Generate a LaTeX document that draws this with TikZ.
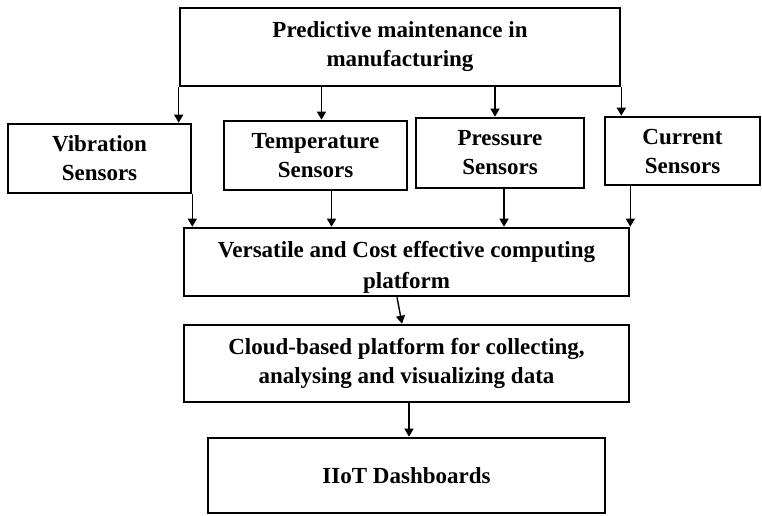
\documentclass[tikz,border=0pt]{standalone}
\usepackage{fontspec}
\setmainfont{Liberation Serif}
\usetikzlibrary{arrows.meta}

\begin{document}
\begin{tikzpicture}[x=1pt,y=-1pt,
  box/.style={draw=black,line width=2.6pt,inner sep=0pt,align=center,
    font=\fontsize{23}{29}\selectfont\bfseries},
  arr/.style={line width=1.4pt,-{Triangle[width=9pt,length=8pt]}}]
\useasboundingbox (0,0) rectangle (762,516);
% the boxes
\node[box,minimum width=440pt,minimum height=78pt] (top) at (400,47) {Predictive maintenance in\\manufacturing};
\node[box,minimum width=183pt,minimum height=69pt] (vib) at (99.5,158.5) {Vibration\\Sensors};
\node[box,minimum width=183pt,minimum height=69pt] (tmp) at (315.5,155.5) {Temperature\\Sensors};
\node[box,minimum width=168pt,minimum height=70pt] (prs) at (500,153) {Pressure\\Sensors};
\node[box,minimum width=155pt,minimum height=68pt] (cur) at (682.5,151) {Current\\Sensors};
\node[box,minimum width=445pt,minimum height=68pt] (ver) at (406.5,262) {\raisebox{-11pt}[0pt][0pt]{\begin{tabular}{@{}c@{}}Versatile and Cost effective computing\\[2pt]platform\end{tabular}}};
\node[box,minimum width=445pt,minimum height=77pt] (cld) at (406.5,363.5) {Cloud-based platform for collecting,\\analysing and visualizing data};
\node[box,minimum width=397pt,minimum height=75pt] (dsh) at (406.5,475.5) {IIoT Dashboards};
% the arrows
\draw[arr] (top.south west) -- (top.south west |- vib.north);
\draw[arr] ([xshift=6pt]tmp.north |- top.south) -- ([xshift=6pt]tmp.north);
\draw[arr] ([xshift=-5pt]prs.north |- top.south) -- ([xshift=-5pt]prs.north);
\draw[arr] (top.south east) -- (top.south east |- cur.north);
\draw[arr] (vib.south east) -- (vib.south east |- ver.north);
\draw[arr] ([xshift=16pt]tmp.south) -- ([xshift=16pt]tmp.south |- ver.north);
\draw[arr] ([xshift=4pt]prs.south) -- ([xshift=4pt]prs.south |- ver.north);
\draw[arr] (ver.north east |- cur.south) -- (ver.north east);
\draw[arr] ([xshift=-9.5pt]ver.south) -- ([xshift=-4.5pt]cld.north);
\draw[arr] ([xshift=2.5pt]cld.south) -- ([xshift=2.5pt]dsh.north);
\end{tikzpicture}
\end{document}
